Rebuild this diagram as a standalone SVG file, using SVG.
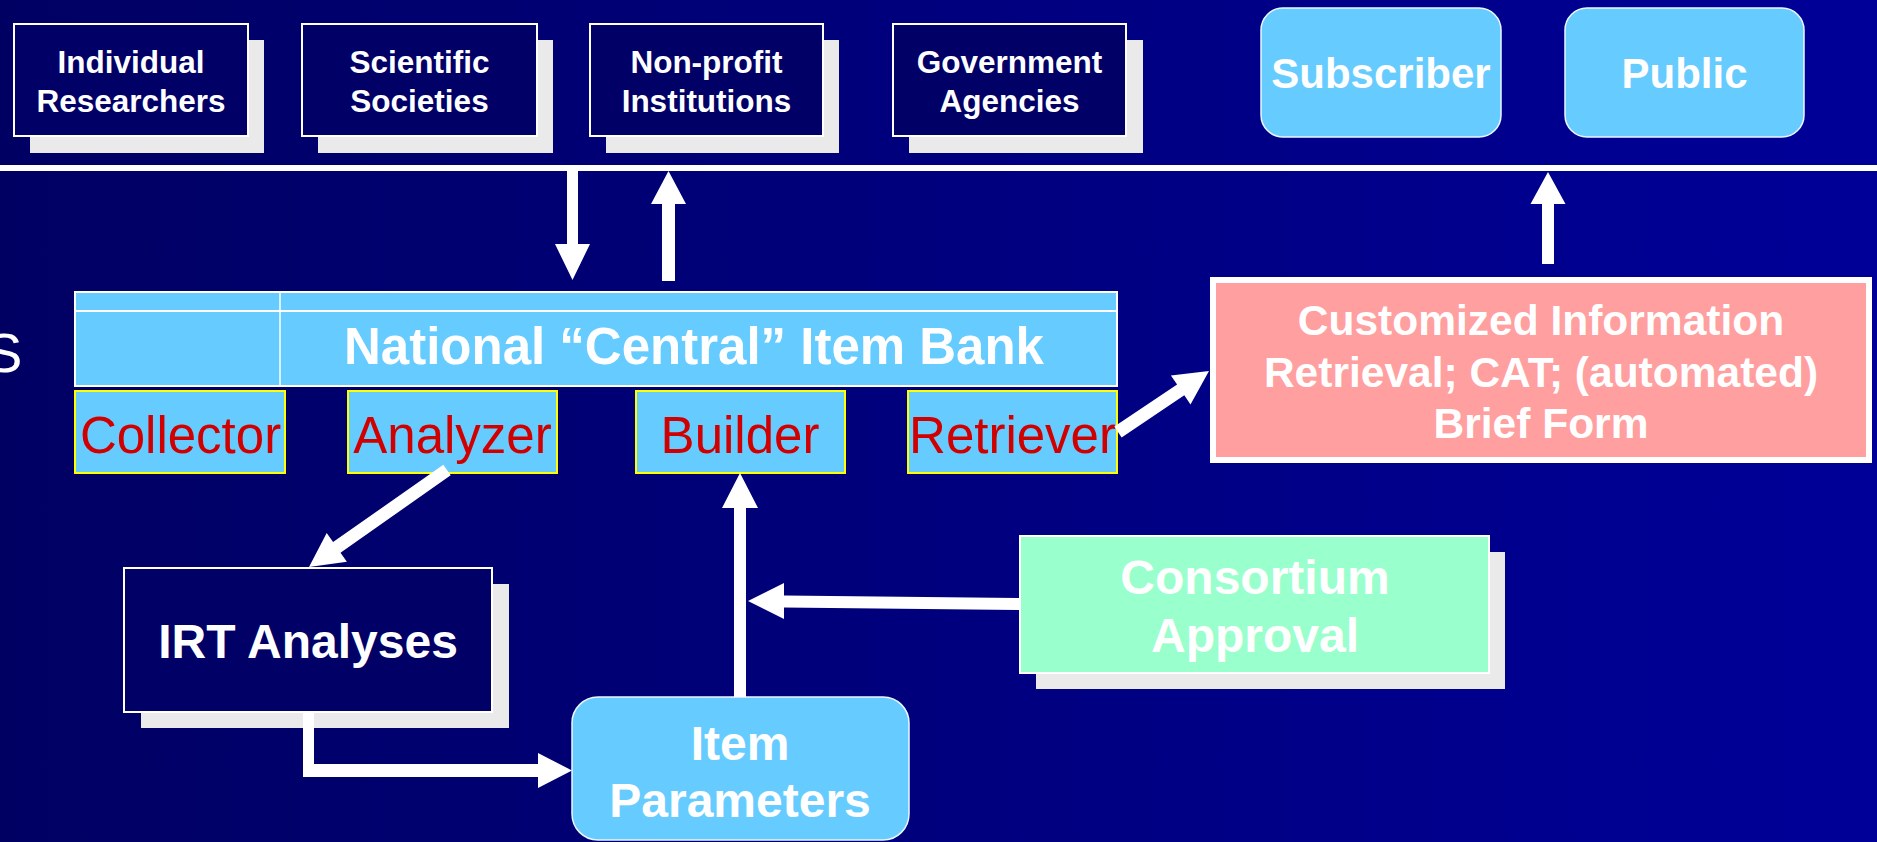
<svg xmlns="http://www.w3.org/2000/svg" width="1877" height="842" viewBox="0 0 1877 842">
<defs>
<linearGradient id="bg" x1="0" y1="0" x2="1" y2="0">
<stop offset="0" stop-color="#000063"/>
<stop offset="1" stop-color="#000098"/>
</linearGradient>
</defs>
<style>
text{font-family:"Liberation Sans",Arial,sans-serif;fill:#fff;text-anchor:middle}
.b{font-weight:bold}
.src rect.box{fill:#000066;stroke:#fff;stroke-width:2}
.shadow{fill:#EAEAEA}
.round{fill:#66CCFF;stroke:#EAF6FF;stroke-width:1.5}
.fn{fill:#66CCFF;stroke:#FFFF00;stroke-width:2}
.fnt{fill:#D00000;font-size:51px}
.t31{font-size:31.5px;font-weight:bold}
.t42{font-size:42px;font-weight:bold}
.t48{font-size:48px;font-weight:bold}
.arrow{fill:#fff}
</style>
<rect x="0" y="0" width="1877" height="842" fill="url(#bg)"/>
<text x="2" y="372" style="font-size:56px;text-anchor:start" transform="translate(-17,0)">S</text>
<rect x="0" y="165" width="1877" height="6" fill="#fff"/>

<g id="individual-researchers" class="src">
<rect class="shadow" x="30" y="40" width="234" height="113"/>
<rect class="box" x="14" y="24" width="234" height="112"/>
<text class="t31" x="131" y="73">Individual</text>
<text class="t31" x="131" y="112">Researchers</text>
</g>
<g id="scientific-societies" class="src">
<rect class="shadow" x="318" y="40" width="235" height="113"/>
<rect class="box" x="302" y="24" width="235" height="112"/>
<text class="t31" x="419.5" y="73">Scientific</text>
<text class="t31" x="419.5" y="112">Societies</text>
</g>
<g id="nonprofit-institutions" class="src">
<rect class="shadow" x="606" y="40" width="233" height="113"/>
<rect class="box" x="590" y="24" width="233" height="112"/>
<text class="t31" x="706.5" y="73">Non-profit</text>
<text class="t31" x="706.5" y="112">Institutions</text>
</g>
<g id="government-agencies" class="src">
<rect class="shadow" x="909" y="40" width="234" height="113"/>
<rect class="box" x="893" y="24" width="233" height="112"/>
<text class="t31" x="1009.5" y="73">Government</text>
<text class="t31" x="1009.5" y="112">Agencies</text>
</g>
<g id="subscriber">
<rect class="round" x="1261" y="8" width="240" height="129" rx="22"/>
<text class="t42" x="1381" y="88">Subscriber</text>
</g>
<g id="public">
<rect class="round" x="1565" y="8" width="239" height="129" rx="22"/>
<text class="t42" x="1684.5" y="88">Public</text>
</g>

<g id="item-bank">
<rect x="75" y="292" width="1042" height="94" fill="#66CCFF" stroke="#fff" stroke-width="2"/>
<line x1="75" y1="311" x2="1117" y2="311" stroke="#fff" stroke-width="2"/>
<line x1="280" y1="292" x2="280" y2="386" stroke="#fff" stroke-width="1.5"/>
<text x="694" y="364" style="font-size:51px;font-weight:bold">National “Central” Item Bank</text>
</g>
<g id="collector">
<rect class="fn" x="75" y="391" width="210" height="82"/>
<text class="fnt" x="180.5" y="453">Collector</text>
</g>
<g id="analyzer">
<rect class="fn" x="348" y="391" width="209" height="82"/>
<text class="fnt" x="452.5" y="453">Analyzer</text>
</g>
<g id="builder">
<rect class="fn" x="636" y="391" width="209" height="82"/>
<text class="fnt" x="740" y="453">Builder</text>
</g>
<g id="retriever">
<rect class="fn" x="908" y="391" width="209" height="82"/>
<text class="fnt" x="1012.5" y="453">Retriever</text>
</g>

<g id="customized-retrieval">
<rect x="1213" y="280" width="656" height="180" fill="#FF9F9F" stroke="#fff" stroke-width="6"/>
<text style="font-size:42.5px;font-weight:bold" x="1541" y="335">Customized Information</text>
<text style="font-size:42.5px;font-weight:bold" x="1541" y="387">Retrieval; CAT; (automated)</text>
<text style="font-size:42.5px;font-weight:bold" x="1541" y="438">Brief Form</text>
</g>

<g id="irt-analyses">
<rect class="shadow" x="141" y="584" width="368" height="144"/>
<rect x="124" y="568" width="368" height="144" fill="#000066" stroke="#fff" stroke-width="2"/>
<text class="t48" x="308" y="658">IRT Analyses</text>
</g>

<g id="consortium-approval">
<rect class="shadow" x="1036" y="552" width="469" height="137"/>
<rect x="1020" y="536" width="469" height="137" fill="#99FFCC" stroke="#fff" stroke-width="2"/>
<text class="t48" x="1255" y="594">Consortium</text>
<text class="t48" x="1255" y="652">Approval</text>
</g>

<g id="item-parameters">
<rect class="round" x="572" y="697" width="337" height="143" rx="26"/>
<text class="t48" x="740" y="760">Item</text>
<text class="t48" x="740" y="817">Parameters</text>
</g>

<g id="connectors" class="arrow">
<polygon points="567,171 578,171 578,244 590,244 572.5,280 555,244 567,244"/>
<polygon points="662,281 675,281 675,204 686,204 668.5,171 651,204 662,204"/>
<polygon points="1542,264 1554,264 1554,204 1565.5,204 1548,172 1530.5,204 1542,204"/>
<polygon points="1121.6,437.4 1114.4,426.6 1177.1,384.5 1170.9,375.4 1209,371 1190.5,404.4 1184.3,395.3"/>
<polygon points="450.7,475.3 443.3,464.7 333.1,542.1 326.7,533.1 309,567 346.9,561.7 340.5,552.7"/>
<polygon points="303,712 314,712 314,764 538,764 538,753 572,770.5 538,788 538,777 303,777"/>
<polygon points="734,697 746,697 746,508 758,508 740,473 722,508 734,508"/>
<polygon points="1021,598 1021,610 784,607.5 784,619 748,601 784,583 784,595.5"/>
</g>
</svg>
